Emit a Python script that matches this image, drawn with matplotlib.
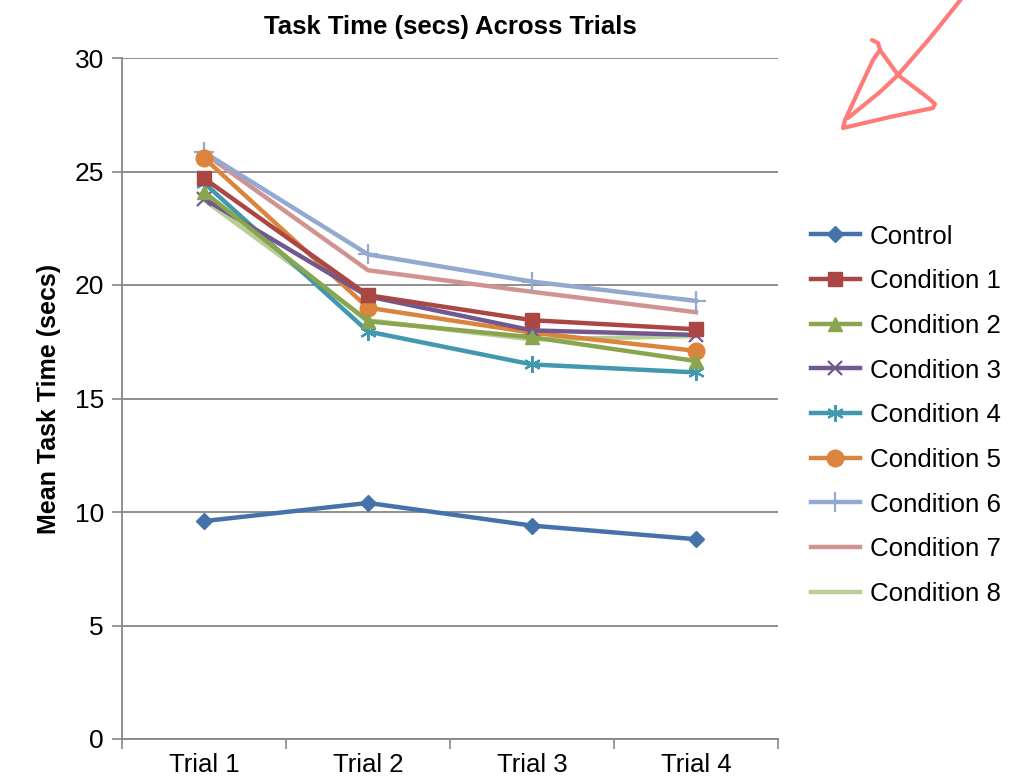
import matplotlib
matplotlib.use("Agg")
import matplotlib.pyplot as plt
from matplotlib.lines import Line2D

plt.rcParams['font.family'] = ['Liberation Sans', 'DejaVu Sans']

trials = ["Trial 1", "Trial 2", "Trial 3", "Trial 4"]
control = [9.6, 10.4, 9.4, 8.8]
cond1 = [24.7, 19.55, 18.45, 18.05]
cond2 = [24.1, 18.4, 17.7, 16.65]
cond3 = [23.8, 19.5, 18.0, 17.8]
cond4 = [24.5, 17.95, 16.5, 16.15]
cond5 = [25.6, 19.0, 17.9, 17.1]
cond6 = [25.85, 21.35, 20.15, 19.3]
cond7 = [25.8, 20.65, 19.7, 18.8]
cond8 = [23.75, 18.45, 17.6, 17.75]

names = ["Control", "Condition 1", "Condition 2", "Condition 3", "Condition 4",
         "Condition 5", "Condition 6", "Condition 7", "Condition 8"]
series = [control, cond1, cond2, cond3, cond4, cond5, cond6, cond7, cond8]
colors = ["#4572AA", "#AA4643", "#89A54E", "#71588F", "#4198AF", "#DB843D",
          "#93A9CF", "#D19392", "#B9CD96"]
markers = ["D", "s", "^", "x", (6, 2, 0), "o", "+", "None", "None"]
msizes = [8, 10, 10, 10, 12, 12, 14, 0, 0]
mews = [1, 1, 1, 1.6, 1.6, 1, 1.6, 1, 1]

fig = plt.figure(figsize=(10.12, 7.79), dpi=100)
ax = fig.add_axes([122/1012, 1-739/779, (778-122)/1012, (739-58)/779])

x = list(range(len(trials)))
for i in reversed(range(len(series))):
    ax.plot(x, series[i], color=colors[i], lw=3.2, marker=markers[i],
            markersize=msizes[i], markeredgewidth=mews[i],
            markeredgecolor=colors[i], markerfacecolor=colors[i],
            label=names[i], zorder=3 + (len(series) - i) * 0.01)

ax.set_xlim(-0.5, 3.5)
ax.set_ylim(0, 30)
ax.set_yticks([0, 5, 10, 15, 20, 25, 30])
ax.set_xticks(x)
ax.set_xticklabels(trials)
ax.set_xticks([-0.5, 0.5, 1.5, 2.5, 3.5], minor=True)
ax.tick_params(axis='x', which='major', length=0, labelsize=18.5, pad=10)
ax.tick_params(axis='x', which='minor', length=7, color='#878787', width=1.2)
ax.tick_params(axis='y', length=7, color='#878787', width=1.2, labelsize=19, pad=6)
ax.yaxis.grid(True, color='#878787', lw=1.3)
ax.set_axisbelow(True)
for s in ['top', 'right']:
    ax.spines[s].set_visible(False)
for s in ['left', 'bottom']:
    ax.spines[s].set_color('#878787')
    ax.spines[s].set_linewidth(1.3)

ax.set_title("Task Time (secs) Across Trials", fontsize=18.5, fontweight='bold', pad=17)
ax.set_ylabel("Mean Task Time (secs)", fontsize=18, fontweight='bold', labelpad=10)

handles, labels = ax.get_legend_handles_labels()
handles = handles[::-1]
labels = labels[::-1]
fig.legend(handles, labels, loc='center left', bbox_to_anchor=(0.778, 0.467),
           frameon=False, fontsize=18.6, handlelength=1.9, labelspacing=0.8,
           handletextpad=0.4)

# hand-drawn arrow annotation
W, H = 1012, 779
def fl(pts):
    return [p[0]/W for p in pts], [1 - p[1]/H for p in pts]
shaft = [(962, -2), (930, 38), (898, 75), (880, 92), (848, 118)]
head = [(872, 40), (878, 43), (880, 50), (873, 60), (858, 92), (845, 120), (843, 128),
        (890, 117), (933, 108), (935, 104), (927, 97), (898, 75), (880, 50)]
for pts in (shaft, head):
    xs, ys = fl(pts)
    fig.add_artist(Line2D(xs, ys, transform=fig.transFigure, color='#FF7B78',
                          lw=3, solid_capstyle='round', solid_joinstyle='round'))

fig.savefig("out.png", dpi=100)
